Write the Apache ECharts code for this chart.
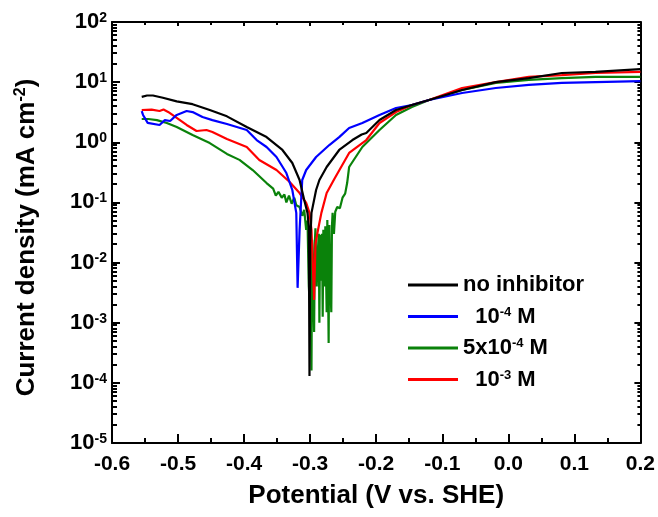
<!DOCTYPE html>
<html><head><meta charset="utf-8">
<script src="https://cdn.jsdelivr.net/npm/echarts@6/dist/echarts.min.js"></script>
<style>html,body{margin:0;padding:0;background:#fff}#c{width:658px;height:517px}</style>
</head><body><div id="c"></div>
<script>
const seriesNames = ['no inhibitor', '1e-4', '5e-4', '1e-3'];
const legendLabels = ['no inhibitor', '  10{s|-4} M', '5x10{s|-4} M', '  10{s|-3} M'];
const seriesColors = ['#000000', '#0000ff', '#0a820a', '#ff0000'];

// [potential (V vs. SHE), current density (mA cm-2)]
const noInhibitor = [[-0.555,5.7],[-0.547,6.0],[-0.538,6.0],[-0.523,5.5],[-0.502,4.8],[-0.478,4.3],[-0.452,3.44],[-0.426,2.7],[-0.396,1.79],[-0.366,1.22],[-0.342,0.745],[-0.327,0.452],[-0.316,0.236],[-0.309,0.11],[-0.304,0.067],[-0.302,0.039],[-0.301,1.3e-4],[-0.300,0.02],[-0.298,0.067],[-0.291,0.161],[-0.286,0.236],[-0.275,0.388],[-0.256,0.745],[-0.236,1.09],[-0.222,1.35],[-0.215,1.43],[-0.195,2.35],[-0.170,3.44],[-0.146,4.17],[-0.120,5.05],[-0.070,7.4],[-0.019,10],[0.031,11.7],[0.081,14.2],[0.132,14.8],[0.200,16.5]];
const inh1e4 = [[-0.555,3.3],[-0.553,2.85],[-0.546,2.1],[-0.528,1.94],[-0.520,2.34],[-0.512,2.26],[-0.502,2.85],[-0.487,3.31],[-0.478,3.18],[-0.463,2.63],[-0.448,2.34],[-0.426,2.01],[-0.396,1.6],[-0.381,1.09],[-0.366,0.835],[-0.351,0.569],[-0.336,0.308],[-0.327,0.161],[-0.321,0.067],[-0.319,0.0038],[-0.316,0.035],[-0.312,0.236],[-0.306,0.346],[-0.291,0.569],[-0.271,0.90],[-0.256,1.22],[-0.241,1.73],[-0.221,2.09],[-0.195,2.84],[-0.170,3.72],[-0.146,4.17],[-0.120,5.05],[-0.070,6.6],[-0.019,8.0],[0.031,9.0],[0.081,9.7],[0.132,10],[0.200,10.4]];
const inh5e4 = [[-0.555,2.44],[-0.545,2.44],[-0.532,2.34],[-0.517,2.09],[-0.502,1.79],[-0.478,1.32],[-0.452,0.97],[-0.426,0.64],[-0.407,0.51],[-0.387,0.346],[-0.366,0.21],[-0.356,0.17],[-0.352,0.13],[-0.348,0.15],[-0.343,0.12],[-0.339,0.135],[-0.336,0.10],[-0.332,0.13],[-0.328,0.095],[-0.324,0.12],[-0.321,0.09],[-0.316,0.084],[-0.312,0.06],[-0.309,0.075],[-0.306,0.035],[-0.304,0.05],[-0.302,0.004],[-0.301,0.0024],[-0.300,0.03],[-0.299,0.002],[-0.298,1.6e-4],[-0.297,0.024],[-0.295,0.003],[-0.294,7e-4],[-0.293,0.02],[-0.292,0.037],[-0.290,0.004],[-0.289,0.011],[-0.287,0.03],[-0.286,1e-3],[-0.285,0.029],[-0.283,0.005],[-0.282,0.03],[-0.281,1.26e-3],[-0.280,0.035],[-0.278,0.004],[-0.277,0.04],[-0.275,1.5e-3],[-0.274,0.051],[-0.273,0.006],[-0.272,4.6e-4],[-0.271,0.042],[-0.270,0.008],[-0.268,1.5e-3],[-0.267,0.04],[-0.266,0.067],[-0.264,0.03],[-0.262,0.07],[-0.259,0.084],[-0.255,0.08],[-0.251,0.12],[-0.247,0.14],[-0.244,0.21],[-0.241,0.388],[-0.221,0.835],[-0.195,1.6],[-0.170,2.84],[-0.146,3.86],[-0.120,5.05],[-0.070,7.4],[-0.019,9.7],[0.031,10.9],[0.081,11.7],[0.132,12.2],[0.200,12.2]];
const inh1e3 = [[-0.555,3.44],[-0.540,3.5],[-0.528,3.31],[-0.522,3.5],[-0.515,3.2],[-0.502,2.54],[-0.487,1.94],[-0.472,1.54],[-0.457,1.6],[-0.448,1.48],[-0.426,1.13],[-0.396,0.835],[-0.377,0.507],[-0.351,0.346],[-0.331,0.219],[-0.316,0.143],[-0.306,0.098],[-0.301,0.067],[-0.298,0.035],[-0.294,0.0024],[-0.292,0.02],[-0.289,0.031],[-0.283,0.067],[-0.275,0.143],[-0.263,0.25],[-0.241,0.664],[-0.215,1.09],[-0.195,2.09],[-0.170,3.18],[-0.146,4.17],[-0.120,5.05],[-0.070,8.0],[-0.019,10],[0.031,12.2],[0.081,13.1],[0.132,14.2],[0.200,14.8]];

const xMin = -0.6, xMax = 0.2, xStep = 0.1;
const yMinExp = -5, yMaxExp = 2;
const minorMultipliers = [2,3,4,5,6,7,8,9];

const FONT = '"Liberation Sans", Arial, Helvetica, sans-serif';
const yMinorVals = [];
for (let e = yMinExp; e < yMaxExp; e++) minorMultipliers.forEach(k => yMinorVals.push(k * Math.pow(10, e)));

const chart = echarts.init(document.getElementById('c'), null, {renderer: 'canvas'});
const mkLine = () => ({show: true, onZero: false, lineStyle: {color: '#000', width: 2}});
const mkTick = len => ({show: true, inside: true, length: len, lineStyle: {color: '#000', width: 2}});

function xAx(pos, show) {
  return {
    type: 'value', min: xMin, max: xMax, interval: xStep, position: pos,
    axisLine: mkLine(), axisTick: mkTick(show ? 9 : 4),
    minorTick: {show: true, splitNumber: 2, length: show ? 5 : 3, lineStyle: {color: '#000', width: 2}},
    splitLine: {show: false},
    axisLabel: show ? {margin: 11, fontSize: 21, fontWeight: 'bold', color: '#000', fontFamily: FONT,
      formatter: v => (Math.abs(v) < 1e-9 ? 0 : v).toFixed(1)} : {show: false},
    name: show ? 'Potential (V vs. SHE)' : '', nameLocation: 'middle', nameGap: 40,
    nameTextStyle: {fontSize: 26, fontWeight: 'bold', color: '#000', fontFamily: FONT}
  };
}
function yAx(pos, show) {
  return {
    type: 'log', logBase: 10, min: Math.pow(10, yMinExp), max: Math.pow(10, yMaxExp), interval: 1, position: pos,
    axisLine: mkLine(), axisTick: mkTick(show ? 8 : 6), splitLine: {show: false}, minorTick: {show: false},
    axisLabel: show ? {
      margin: 5, fontSize: 22, fontWeight: 'bold', color: '#000', fontFamily: FONT, lineHeight: 22,
      formatter: v => '10{s|' + Math.round(Math.log10(v)) + '}',
      rich: {s: {fontSize: 14, fontWeight: 'bold', color: '#000', fontFamily: FONT, verticalAlign: 'top', lineHeight: 14}}
    } : {show: false},
    name: show ? 'Current density (mA cm{s|-2})' : '', nameLocation: 'middle', nameGap: 71,
    nameTextStyle: {fontSize: 26, fontWeight: 'bold', color: '#000', fontFamily: FONT, lineHeight: 28, padding: [0, 10, 0, 0],
      rich: {s: {fontSize: 16, fontWeight: 'bold', color: '#000', fontFamily: FONT, verticalAlign: 'top', lineHeight: 16}}}
  };
}

function lineSeries(name, data, color) {
  return {type: 'line', name: name, data: data, showSymbol: false, symbol: 'none',
    lineStyle: {color: color, width: 2.2}, itemStyle: {color: color}, z: 3};
}

// log-axis minor ticks (2..9 x 10^n) on left and right frame, placed via the y axis scale
function renderMinorY(params, api) {
  const v = api.value(1);
  const a = api.coord([xMin, v]);
  const b = api.coord([xMax, v]);
  const y = Math.round(a[1]) - 1;
  return {type: 'group', children: [
    {type: 'rect', shape: {x: a[0], y: y, width: 5, height: 2}, style: {fill: '#000'}},
    {type: 'rect', shape: {x: b[0] - 3, y: y, width: 3, height: 2}, style: {fill: '#000'}}
  ]};
}

const option = {
  animation: false,
  backgroundColor: '#fff',
  grid: {left: 112, right: 16, top: 22, bottom: 74},
  xAxis: [xAx('bottom', true), xAx('top', false)],
  yAxis: [yAx('left', true), yAx('right', false)],
  legend: {
    orient: 'vertical', left: 408, top: 274, padding: 0, itemWidth: 50, itemHeight: 3, itemGap: 9.5, icon: 'rect',
    data: seriesNames,
    formatter: n => legendLabels[seriesNames.indexOf(n)],
    textStyle: {fontSize: 22, fontWeight: 'bold', color: '#000', fontFamily: FONT, lineHeight: 22,
      rich: {s: {fontSize: 13, fontWeight: 'bold', color: '#000', fontFamily: FONT, verticalAlign: 'top', lineHeight: 13}}}
  },
  series: [
    lineSeries(seriesNames[2], inh5e4, seriesColors[2]),
    lineSeries(seriesNames[3], inh1e3, seriesColors[3]),
    lineSeries(seriesNames[1], inh1e4, seriesColors[1]),
    lineSeries(seriesNames[0], noInhibitor, seriesColors[0]),
    {type: 'custom', name: 'minorY', silent: true, clip: false, z: 4,
      data: yMinorVals.map(v => [xMin, v]), renderItem: renderMinorY}
  ]
};
chart.setOption(option);
</script></body></html>
